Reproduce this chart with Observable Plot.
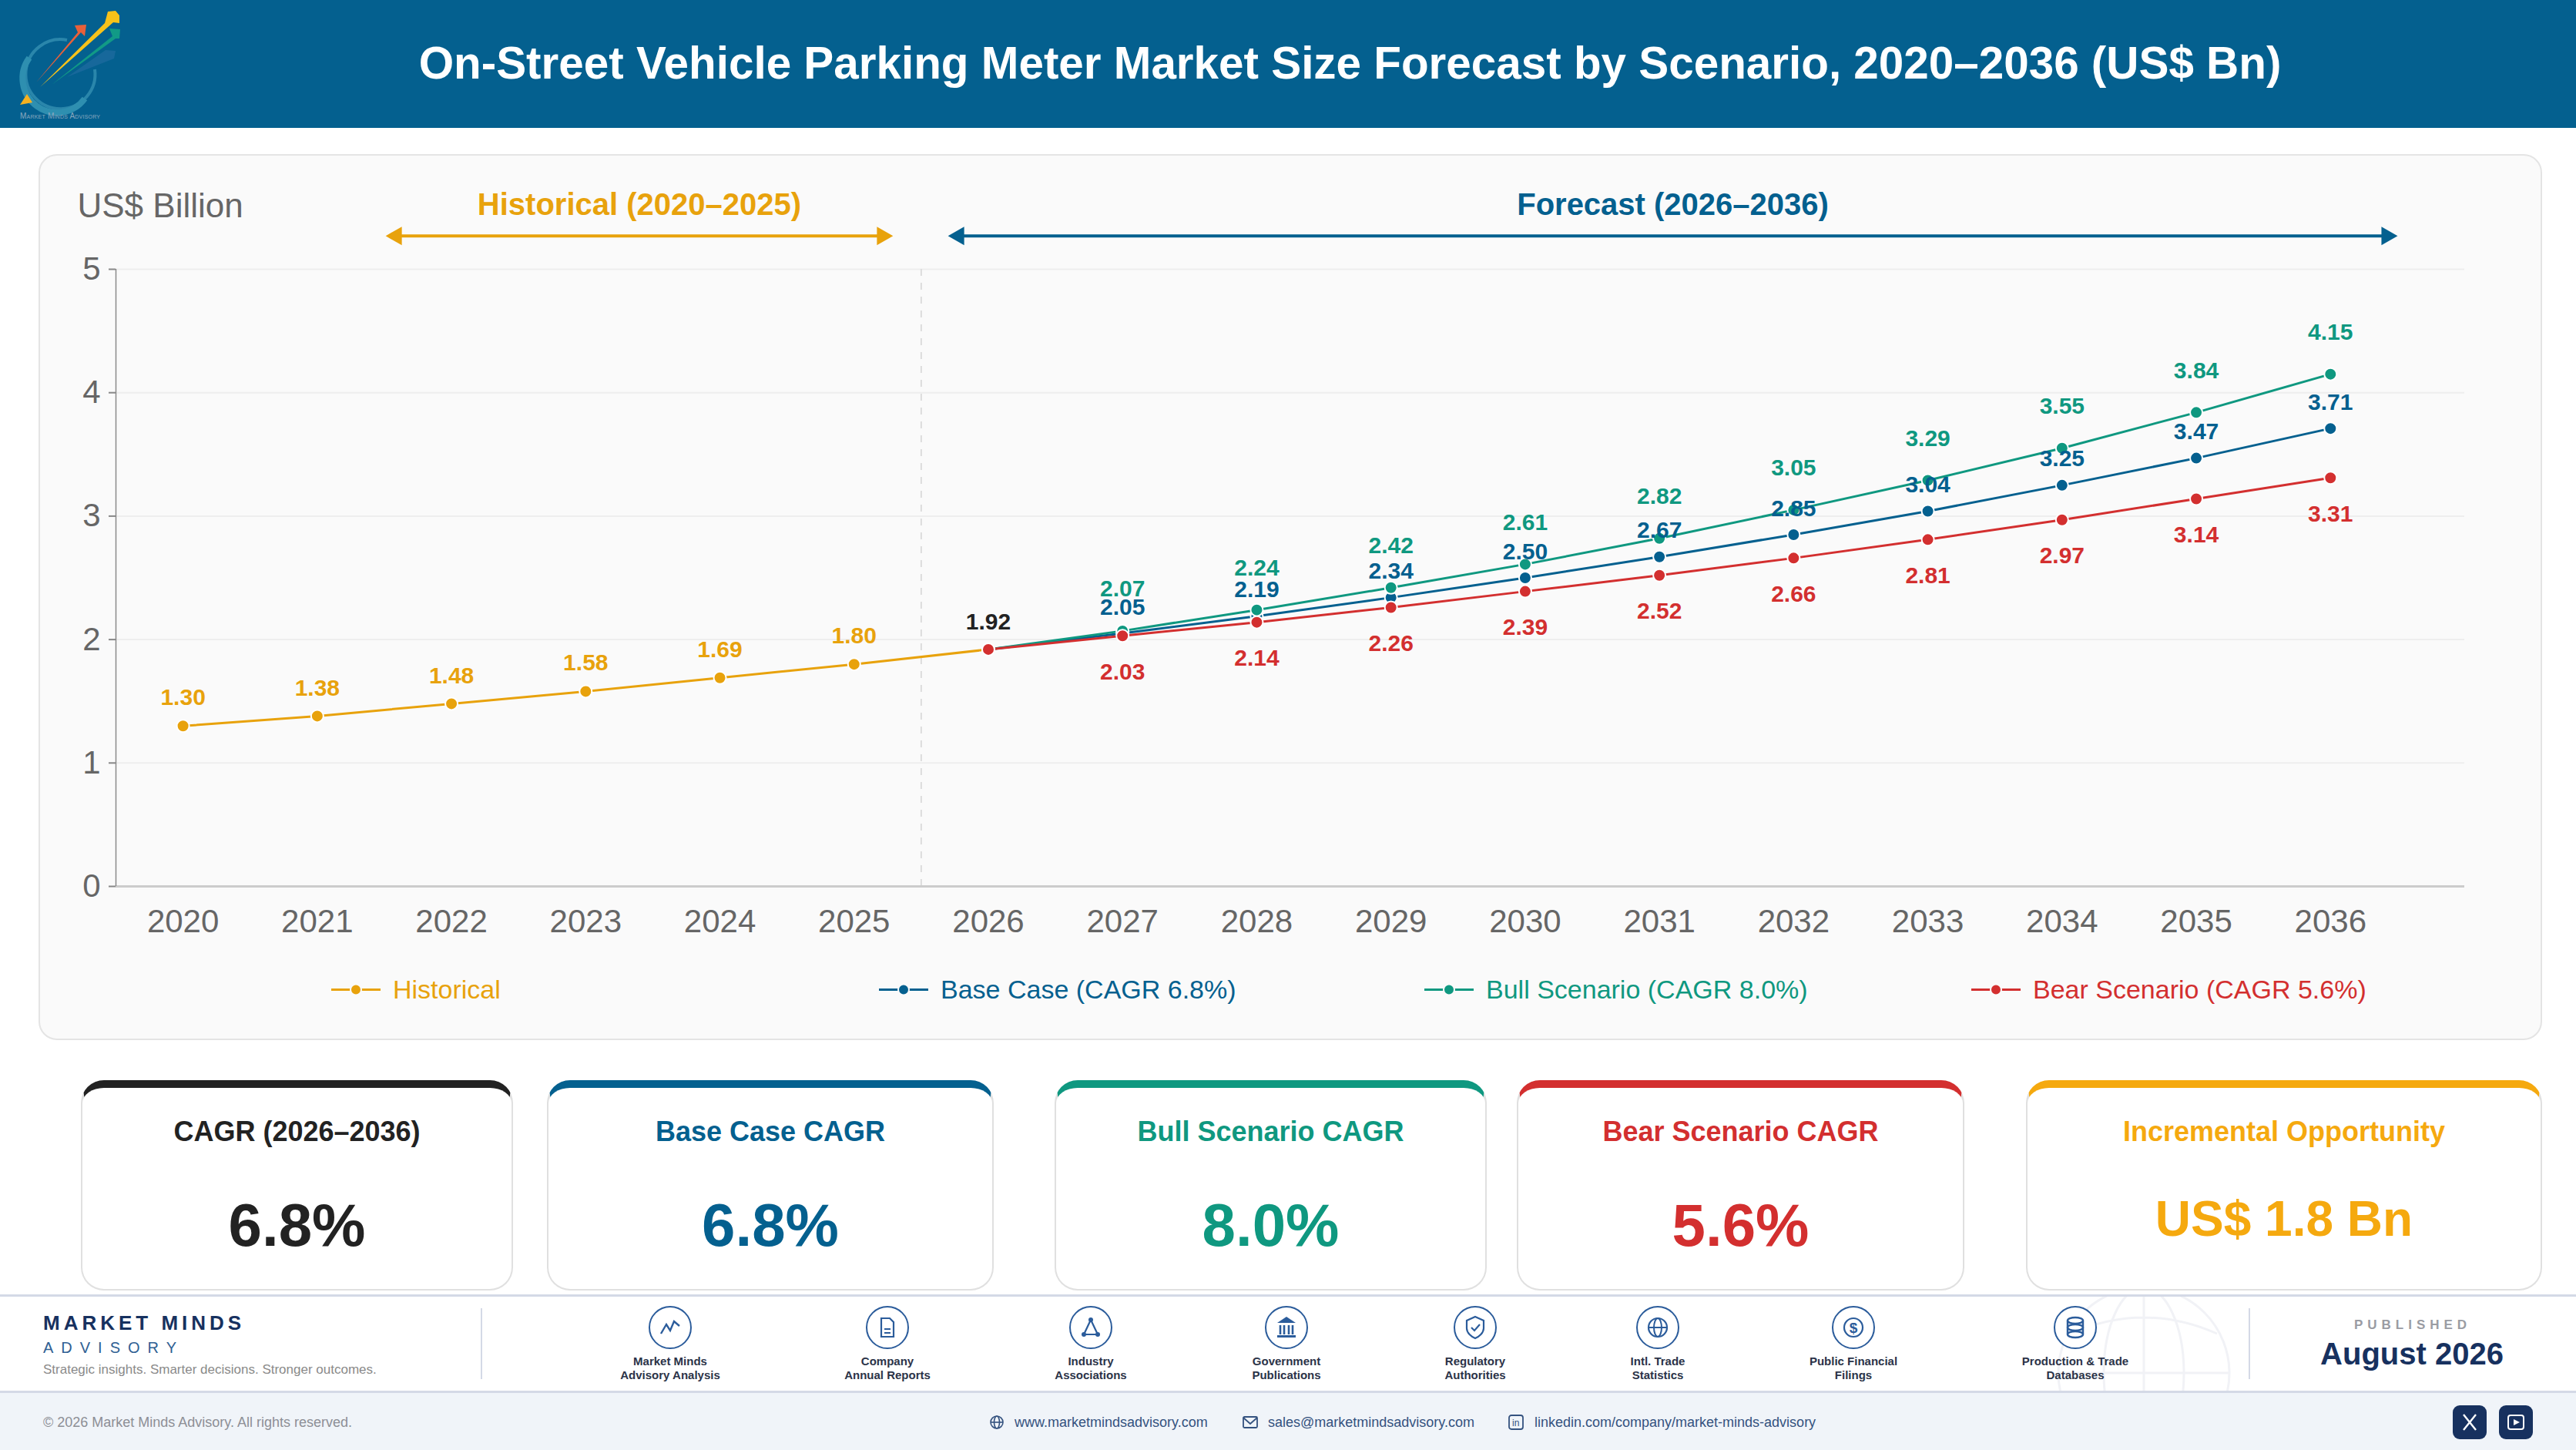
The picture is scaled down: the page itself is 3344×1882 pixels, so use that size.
<!DOCTYPE html>
<html><head><meta charset="utf-8">
<script src="https://cdn.jsdelivr.net/npm/d3@7"></script>
<script src="https://cdn.jsdelivr.net/npm/@observablehq/plot@0.6"></script>
<style>
html,body{margin:0;padding:0;background:#fff;}
body{width:3344px;height:1882px;position:relative;overflow:hidden;font-family:"Liberation Sans",Arial,sans-serif;}
.abs{position:absolute;}
#header{left:0;top:0;width:3344px;height:166px;background:#04608F;}
#title{position:absolute;left:157px;right:0;top:0;height:164px;line-height:164px;text-align:center;color:#fff;font-weight:700;font-size:58.4px;white-space:nowrap;padding-left:4px;box-sizing:border-box;}
#panel{left:50px;top:200px;width:3250px;height:1150px;background:#fafafa;border:2px solid #e4e4e4;border-radius:24px;box-sizing:border-box;}
#chart{left:48px;top:198px;}
.leg{position:absolute;top:1263px;height:42px;line-height:42px;font-size:34px;white-space:nowrap;}
.leg svg{position:absolute;left:0;top:0;}
.card{position:absolute;top:1402px;height:273px;box-sizing:border-box;background:#fff;border:2px solid #e0e0e0;border-top-width:10px;border-radius:30px;text-align:center;}
.card .t{position:absolute;left:0;right:0;top:35px;line-height:44px;font-weight:700;font-size:36px;}
.card .v{position:absolute;left:0;right:0;line-height:90px;font-weight:700;}
#footline{left:0;top:1680px;width:3344px;height:3px;background:#d4d9e6;}
#footbar{left:0;top:1805px;width:3344px;height:77px;background:#f0f4f9;border-top:3px solid #d4d9e6;box-sizing:border-box;}
.src{position:absolute;top:1693px;width:240px;text-align:center;}
.src .l{position:absolute;top:65px;left:0;right:0;font-size:15px;line-height:18px;font-weight:700;color:#2b3348;}
.sep{position:absolute;top:1698px;height:92px;width:2px;background:#d4d9e6;}
.bt{position:absolute;top:1834px;line-height:24px;font-size:18px;white-space:nowrap;}
.soc{position:absolute;top:1824px;width:44px;height:44px;border-radius:9px;background:#17315f;}
</style></head><body>
<div id="header" class="abs">
  <svg class="abs" style="left:0;top:0" width="170" height="166" viewBox="0 0 170 166">
    <path d="M87 52 A45 45 0 1 0 123 90" fill="none" stroke="#2a86ab" stroke-width="4"/>
    <path d="M38 75 A44 44 0 0 0 110 128" fill="none" stroke="#2e8fb0" stroke-width="8"/>
    <polygon points="87,100 137,65 150,66 148,76" fill="#17689b"/>
    <polygon points="67,110 146,47 142,37 156,38 155,50 150,50" fill="#119a86"/>
    <polygon points="47,107 101,42 97,33 112,32 110,47 105,42" fill="#e9603a"/>
    <polygon points="52,113 136,30 140,15 150,14 155,20 155,30 147,29" fill="#f7c21a"/>
    <polygon points="35,122 42,133 26,136" fill="#f5b120"/>
    <text x="26" y="154" font-size="10" fill="#8aa8bf" font-family="Liberation Sans" textLength="104" style="font-variant:small-caps">Market Minds Advisory</text>
  </svg>
  <div id="title"></div>
</div>
<div id="panel" class="abs"></div>
<div id="chart" class="abs"></div>
<div id="legend"></div>
<div id="cards"></div>
<div id="footline" class="abs"></div>
<svg class="abs" style="left:2660px;top:1683px" width="250" height="122" viewBox="0 0 250 122" fill="none" stroke="#f1f2f6" stroke-width="3">
  <circle cx="123" cy="99" r="111"/><ellipse cx="123" cy="99" rx="52" ry="111"/><path d="M12 99H234M28 48Q123 6 218 48M123 -12V122"/>
</svg>
<div id="brand">
  <div class="abs" style="left:56px;top:1702px;font-size:26px;line-height:30px;font-weight:700;letter-spacing:5px;color:#17315f;">MARKET MINDS</div>
  <div class="abs" style="left:56px;top:1738px;font-size:20px;line-height:23px;letter-spacing:10px;color:#2f5f93;">ADVISORY</div>
  <div class="abs" style="left:56px;top:1767px;font-size:17px;line-height:22px;color:#8a8a8a;white-space:nowrap;">Strategic insights. Smarter decisions. Stronger outcomes.</div>
</div>
<div class="sep" style="left:624px"></div>
<div class="sep" style="left:2919px"></div>
<div id="sources"></div>
<div class="abs" style="left:2982px;width:300px;top:1709px;text-align:center;font-size:17px;line-height:22px;font-weight:700;letter-spacing:6px;color:#9a9ca3;">PUBLISHED</div>
<div class="abs" style="left:2981px;width:300px;top:1733px;text-align:center;font-size:40px;line-height:48px;font-weight:700;color:#17315f;">August 2026</div>
<div id="footbar" class="abs"></div>
<div class="bt" style="left:56px;color:#8d8f96">© 2026 Market Minds Advisory. All rights reserved.</div>
<svg class="abs" style="left:1284px;top:1836px" width="20" height="20" viewBox="0 0 20 20" fill="none" stroke="#34527f" stroke-width="1.6"><circle cx="10" cy="10" r="8"/><ellipse cx="10" cy="10" rx="3.5" ry="8"/><path d="M2 10H18"/></svg>
<div class="bt" style="left:1317px;color:#34527f">www.marketmindsadvisory.com</div>
<svg class="abs" style="left:1612px;top:1836px" width="22" height="20" viewBox="0 0 22 20" fill="none" stroke="#34527f" stroke-width="1.8"><rect x="2" y="3" width="18" height="14" rx="1.5"/><path d="M2 4L11 12L20 4"/></svg>
<div class="bt" style="left:1646px;color:#34527f">sales@marketmindsadvisory.com</div>
<svg class="abs" style="left:1957px;top:1835px" width="22" height="22" viewBox="0 0 22 22" fill="none" stroke="#34527f" stroke-width="1.8"><rect x="2" y="2" width="18" height="18" rx="3"/><text x="6" y="16" font-size="12" fill="#34527f" stroke="none" font-family="Liberation Sans">in</text></svg>
<div class="bt" style="left:1992px;color:#34527f">linkedin.com/company/market-minds-advisory</div>
<div class="soc" style="left:3184px"><svg width="44" height="44" viewBox="0 0 44 44" fill="none" stroke="#fff" stroke-width="2.4"><path d="M14 12L30 32M30 12L14 32"/></svg></div>
<div class="soc" style="left:3244px"><svg width="44" height="44" viewBox="0 0 44 44"><rect x="12" y="13" width="20" height="18" rx="3" fill="none" stroke="#fff" stroke-width="2"/><polygon points="19,18 27,22 19,26" fill="#fff"/></svg></div>

<script>
const titleText = "On-Street Vehicle Parking Meter Market Size Forecast by Scenario, 2020–2036 (US$ Bn)";
const histYears = [2020, 2021, 2022, 2023, 2024, 2025, 2026];
const histValues = [1.30, 1.38, 1.48, 1.58, 1.69, 1.80, 1.92];
const foreYears = [2026, 2027, 2028, 2029, 2030, 2031, 2032, 2033, 2034, 2035, 2036];
const baseValues = [1.92, 2.05, 2.19, 2.34, 2.50, 2.67, 2.85, 3.04, 3.25, 3.47, 3.71];
const bullValues = [1.92, 2.07, 2.24, 2.42, 2.61, 2.82, 3.05, 3.29, 3.55, 3.84, 4.15];
const bearValues = [1.92, 2.03, 2.14, 2.26, 2.39, 2.52, 2.66, 2.81, 2.97, 3.14, 3.31];
const allYears = d3.range(2020, 2037);
const yTicks = [0, 1, 2, 3, 4, 5];
const legendLabels = ["Historical", "Base Case (CAGR 6.8%)", "Bull Scenario (CAGR 8.0%)", "Bear Scenario (CAGR 5.6%)"];
const cardTitles = ["CAGR (2026–2036)", "Base Case CAGR", "Bull Scenario CAGR", "Bear Scenario CAGR", "Incremental Opportunity"];
const cardValues = ["6.8%", "6.8%", "8.0%", "5.6%", "US$ 1.8 Bn"];
const sourceLabels = [["Market Minds","Advisory Analysis"],["Company","Annual Reports"],["Industry","Associations"],["Government","Publications"],["Regulatory","Authorities"],["Intl. Trade","Statistics"],["Public Financial","Filings"],["Production & Trade","Databases"]];

const cHist = "#E8A20C", cBase = "#04608F", cBull = "#0F9880", cBear = "#D32F2F", cBlack = "#222222";
document.getElementById("title").textContent = titleText;

const rows = (xs, ys) => xs.map((year, i) => ({year, value: ys[i]}));
const hist = rows(histYears, histValues);
const base = rows(foreYears, baseValues);
const bull = rows(foreYears, bullValues);
const bear = rows(foreYears, bearValues);
const fmt = d => d.value.toFixed(2);
const line = (data, c) => Plot.line(data, {x: "year", y: "value", stroke: c, strokeWidth: 3});
const dots = (data, c) => Plot.dot(data, {x: "year", y: "value", r: 8, fill: c, stroke: "#fff", strokeWidth: 2});
const labels = (data, c, dy) => Plot.text(data, {x: "year", y: "value", text: fmt, fill: c, dy, fontSize: 30, fontWeight: 700, fontFamily: "Liberation Sans"});
const later = d => d.year > 2026;
const spanArrow = (x1, x2, c) => [
  Plot.ruleY([5.27], {x1, x2, stroke: c, strokeWidth: 4}),
  Plot.dot([0], {x: [x1], y: [5.27], r: 9, symbol: "triangle", rotate: -90, fill: c, stroke: "none"}),
  Plot.dot([0], {x: [x2], y: [5.27], r: 9, symbol: "triangle", rotate: 90, fill: c, stroke: "none"})
];

const chart = Plot.plot({
  width: 3250, height: 1040,
  marginLeft: 102, marginRight: 99, marginTop: 151, marginBottom: 88,
  style: {background: "transparent", fontFamily: "Liberation Sans"},
  x: {domain: [2019.5, 2037], axis: null},
  y: {domain: [0, 5], axis: null},
  marks: [
    Plot.ruleY([1, 2, 3, 4, 5], {stroke: "#eeeeee", strokeWidth: 2}),
    Plot.ruleX([2025.5], {y1: 0, y2: 5, stroke: "#dcdcdc", strokeWidth: 2, strokeDasharray: "9 9"}),
    Plot.ruleY([0], {stroke: "#cccccc", strokeWidth: 3}),
    Plot.ruleX([2019.5], {y1: 0, y2: 5, stroke: "#8a8a8a", strokeWidth: 1.5}),
    Plot.axisX(allYears, {tickSize: 0, tickPadding: 30, fontSize: 42, fill: "#666666", tickFormat: d => String(d), label: null, fontVariant: "normal"}),
    Plot.axisY(yTicks, {tickSize: 9, tickPadding: 11, fontSize: 42, fill: "#666666", stroke: "#888888", strokeWidth: 2, label: null, tickFormat: d => String(d), fontVariant: "normal"}),
    Plot.text(["US$ Billion"], {frameAnchor: "top-left", dx: -50, dy: -99, fontSize: 44, fill: "#666666", textAnchor: "start", lineAnchor: "top"}),
    Plot.text(["Historical (2020–2025)"], {x: [2023.4], y: [5.52], fontSize: 40, fontWeight: 700, fill: cHist}),
    Plot.text(["Forecast (2026–2036)"], {x: [2031.1], y: [5.52], fontSize: 40, fontWeight: 700, fill: cBase}),
    ...spanArrow(2021.59, 2025.21, cHist),
    ...spanArrow(2025.78, 2036.42, cBase),
    line(hist, cHist), line(base, cBase), line(bull, cBull), line(bear, cBear),
    dots(hist, cHist), dots(base, cBase), dots(bull, cBull), dots(bear, cBear),
    labels(hist.filter(d => d.year < 2026), cHist, -36.5),
    labels(hist.filter(d => d.year === 2026), cBlack, -36),
    labels(bull.filter(later), cBull, -54),
    labels(base.filter(later), cBase, -34),
    labels(bear.filter(later), cBear, 47)
  ]
});
document.getElementById("chart").append(chart);

// Legend
const legendLeft = [430, 1141, 1849, 2559];
const legendColor = [cHist, cBase, cBull, cBear];
const legend = document.getElementById("legend");
legendLabels.forEach((t, i) => {
  const d = document.createElement("div");
  d.className = "leg";
  d.style.left = legendLeft[i] + "px";
  d.style.paddingLeft = "80px";
  d.style.color = legendColor[i];
  d.innerHTML = `<svg width="66" height="42"><rect x="0" y="20" width="64" height="3" fill="${legendColor[i]}"/><circle cx="32" cy="21.5" r="7" fill="${legendColor[i]}" stroke="#fafafa" stroke-width="2"/></svg>`;
  d.append(t);
  legend.append(d);
});

// KPI cards
const cardLeft = [105, 710, 1369, 1969, 2630], cardRight = [666, 1290, 1930, 2550, 3300];
const cardColor = [cBlack, cBase, cBull, cBear, "#F5A90F"];
const cards = document.getElementById("cards");
cardTitles.forEach((t, i) => {
  const d = document.createElement("div");
  d.className = "card";
  d.style.left = cardLeft[i] + "px";
  d.style.width = (cardRight[i] - cardLeft[i]) + "px";
  d.style.borderTopColor = cardColor[i];
  const fs = i === 4 ? 64 : 78;
  const top = i === 4 ? 125 : 133;
  d.innerHTML = `<div class="t" style="color:${cardColor[i]}">${t}</div><div class="v" style="color:${cardColor[i]};font-size:${fs}px;top:${top}px">${cardValues[i]}</div>`;
  cards.append(d);
});

// Source icons
const srcX = [870, 1152, 1416, 1670, 1915, 2152, 2406, 2694];
const ic = "#2b5c9b";
const glyphs = [
  `<path d="M-12 8L-5 -4L0 4L5 -8L12 -2" fill="none" stroke="${ic}" stroke-width="2.4"/>`,
  `<path d="M-8 -12H3L8 -7V12H-8Z" fill="none" stroke="${ic}" stroke-width="2.2"/><path d="M-4 2H4M-4 7H4" stroke="${ic}" stroke-width="2"/>`,
  `<path d="M0 -10L-9 9H9Z" fill="none" stroke="${ic}" stroke-width="2.2"/><circle cx="0" cy="-10" r="3" fill="${ic}"/><circle cx="-9" cy="9" r="3" fill="${ic}"/><circle cx="9" cy="9" r="3" fill="${ic}"/>`,
  `<path d="M0 -14L12 -6H-12Z" fill="${ic}"/><path d="M-8 -3V9M-3 -3V9M3 -3V9M8 -3V9" stroke="${ic}" stroke-width="2.6"/><rect x="-12" y="10" width="24" height="3" fill="${ic}"/>`,
  `<path d="M0 -14L11 -9V1C11 7 5 12 0 14C-5 12 -11 7 -11 1V-9Z" fill="none" stroke="${ic}" stroke-width="2.2"/><path d="M-5 0L-1 4L6 -4" fill="none" stroke="${ic}" stroke-width="2.2"/>`,
  `<circle r="12" fill="none" stroke="${ic}" stroke-width="2.2"/><ellipse rx="5" ry="12" fill="none" stroke="${ic}" stroke-width="2"/><path d="M-12 0H12" stroke="${ic}" stroke-width="2"/>`,
  `<circle r="12" fill="none" stroke="${ic}" stroke-width="2.2"/><text y="7" font-size="19" text-anchor="middle" font-weight="700" fill="${ic}" font-family="Liberation Sans">$</text>`,
  `<ellipse cy="-9" rx="10" ry="4" fill="none" stroke="${ic}" stroke-width="2.4"/><ellipse cy="0" rx="10" ry="4" fill="none" stroke="${ic}" stroke-width="2.4"/><ellipse cy="9" rx="10" ry="4" fill="none" stroke="${ic}" stroke-width="2.4"/><path d="M-10 -9V9M10 -9V9" stroke="${ic}" stroke-width="2.4"/>`
];
const sources = document.getElementById("sources");
sourceLabels.forEach((l, i) => {
  const d = document.createElement("div");
  d.className = "src";
  d.style.left = (srcX[i] - 120) + "px";
  d.innerHTML = `<svg width="60" height="60" viewBox="-30 -30 60 60" style="display:block;margin:0 auto"><circle r="27" fill="#fff" stroke="${ic}" stroke-width="2"/>${glyphs[i]}</svg><div class="l">${l[0].replace("&","&amp;")}<br>${l[1]}</div>`;
  sources.append(d);
});
</script>
</body></html>
